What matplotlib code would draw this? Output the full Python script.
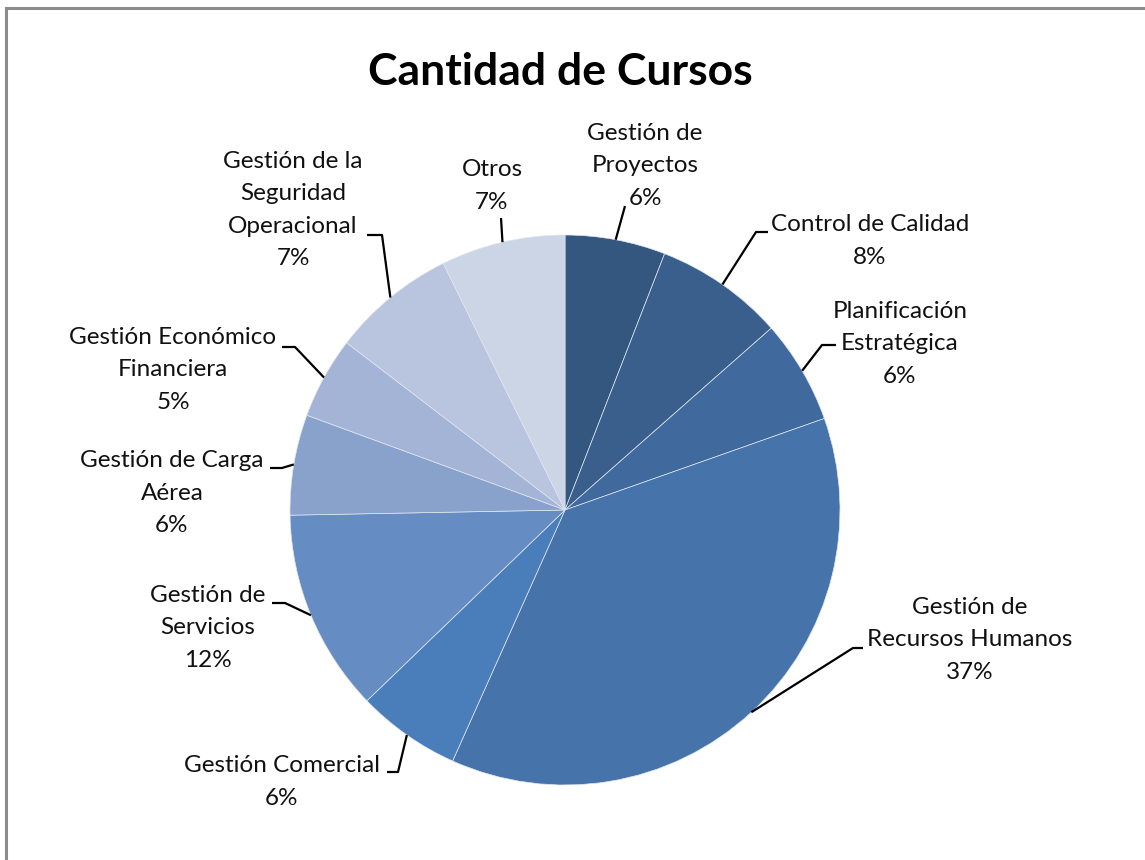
import matplotlib.pyplot as plt
import numpy as np

# data (percent of courses)
categorias = ["Gestión de\nProyectos", "Control de Calidad", "Planificación\nEstratégica",
              "Gestión de\nRecursos Humanos", "Gestión Comercial", "Gestión de\nServicios",
              "Gestión de Carga\nAérea", "Gestión Económico\nFinanciera",
              "Gestión de la\nSeguridad\nOperacional", "Otros"]
porcentajes = [5.9, 7.6, 6.1, 37.1, 6.1, 11.9, 5.9, 4.8, 7.3, 7.3]

colores = ['#34577f', '#3b5f8c', '#40699e', '#4673aa', '#4a7ebb',
           '#658dc3', '#89a2cc', '#a3b4d6', '#b9c5df', '#ccd5e6']

# layout in pixel coords (x right, y down): text centre and leader elbow/end
texto_pos = [(645, 166), (870, 241), (900, 344), (970, 640), (282, 782),
             (208, 628), (172, 493), (173, 370), (293, 210), (492, 186)]
codo_pos = [None, (756, 232), (822, 345), (853, 648), (398, 772),
            (285, 603), (282, 468), (295, 347), (382, 235), None]
fin_pos = [(625, 206), (768, 232), (836, 345), (863, 648), (387, 772),
           (272, 603), (270, 468), (282, 347), (367, 235), (501, 218)]

W, H = 1145, 860
cx, cy, r = 565, 510, 275

fig = plt.figure(figsize=(W / 100, H / 100), dpi=100, facecolor='white')
ax = fig.add_axes([0, 0, 1, 1])

def py(y):
    return H - y

wedges, _ = ax.pie(porcentajes, colors=colores, startangle=90, counterclock=False,
                   center=(cx, py(cy)), radius=r,
                   wedgeprops=dict(edgecolor='#dfe6f0', linewidth=0.5))
ax.set_xlim(0, W)
ax.set_ylim(0, H)
ax.set_aspect('equal')
ax.axis('off')

# leader lines + labels
ang0 = 90.0
for i, (cat, pct) in enumerate(zip(categorias, porcentajes)):
    mid = np.deg2rad(ang0 - pct * 3.6 / 2)
    ang0 -= pct * 3.6
    sx, sy = cx + r * np.cos(mid), cy - r * np.sin(mid)
    pts = [(sx, sy)]
    if codo_pos[i] is not None:
        pts.append(codo_pos[i])
    pts.append(fin_pos[i])
    xs = [p[0] for p in pts]
    ys = [py(p[1]) for p in pts]
    ax.plot(xs, ys, color='black', lw=1.6, solid_capstyle='butt', zorder=5)
    tx, ty = texto_pos[i]
    ax.text(tx, py(ty), cat + "\n" + "%.0f%%" % pct, ha='center', va='center',
            fontsize=17.5, family='Lato', color='#111111', linespacing=1.68, zorder=6)

ax.text(560, py(72), "Cantidad de Cursos", ha='center', va='center',
        fontsize=32, fontweight='bold', family='Lato', color='black')

# chart area border (top and left visible)
ax.plot([6, 6], [py(8), 0], color='#8c8c8c', lw=2.2, clip_on=False)
ax.plot([6, W], [py(8), py(8)], color='#8c8c8c', lw=2.2, clip_on=False)

fig.savefig('out.png', dpi=100, facecolor='white')
